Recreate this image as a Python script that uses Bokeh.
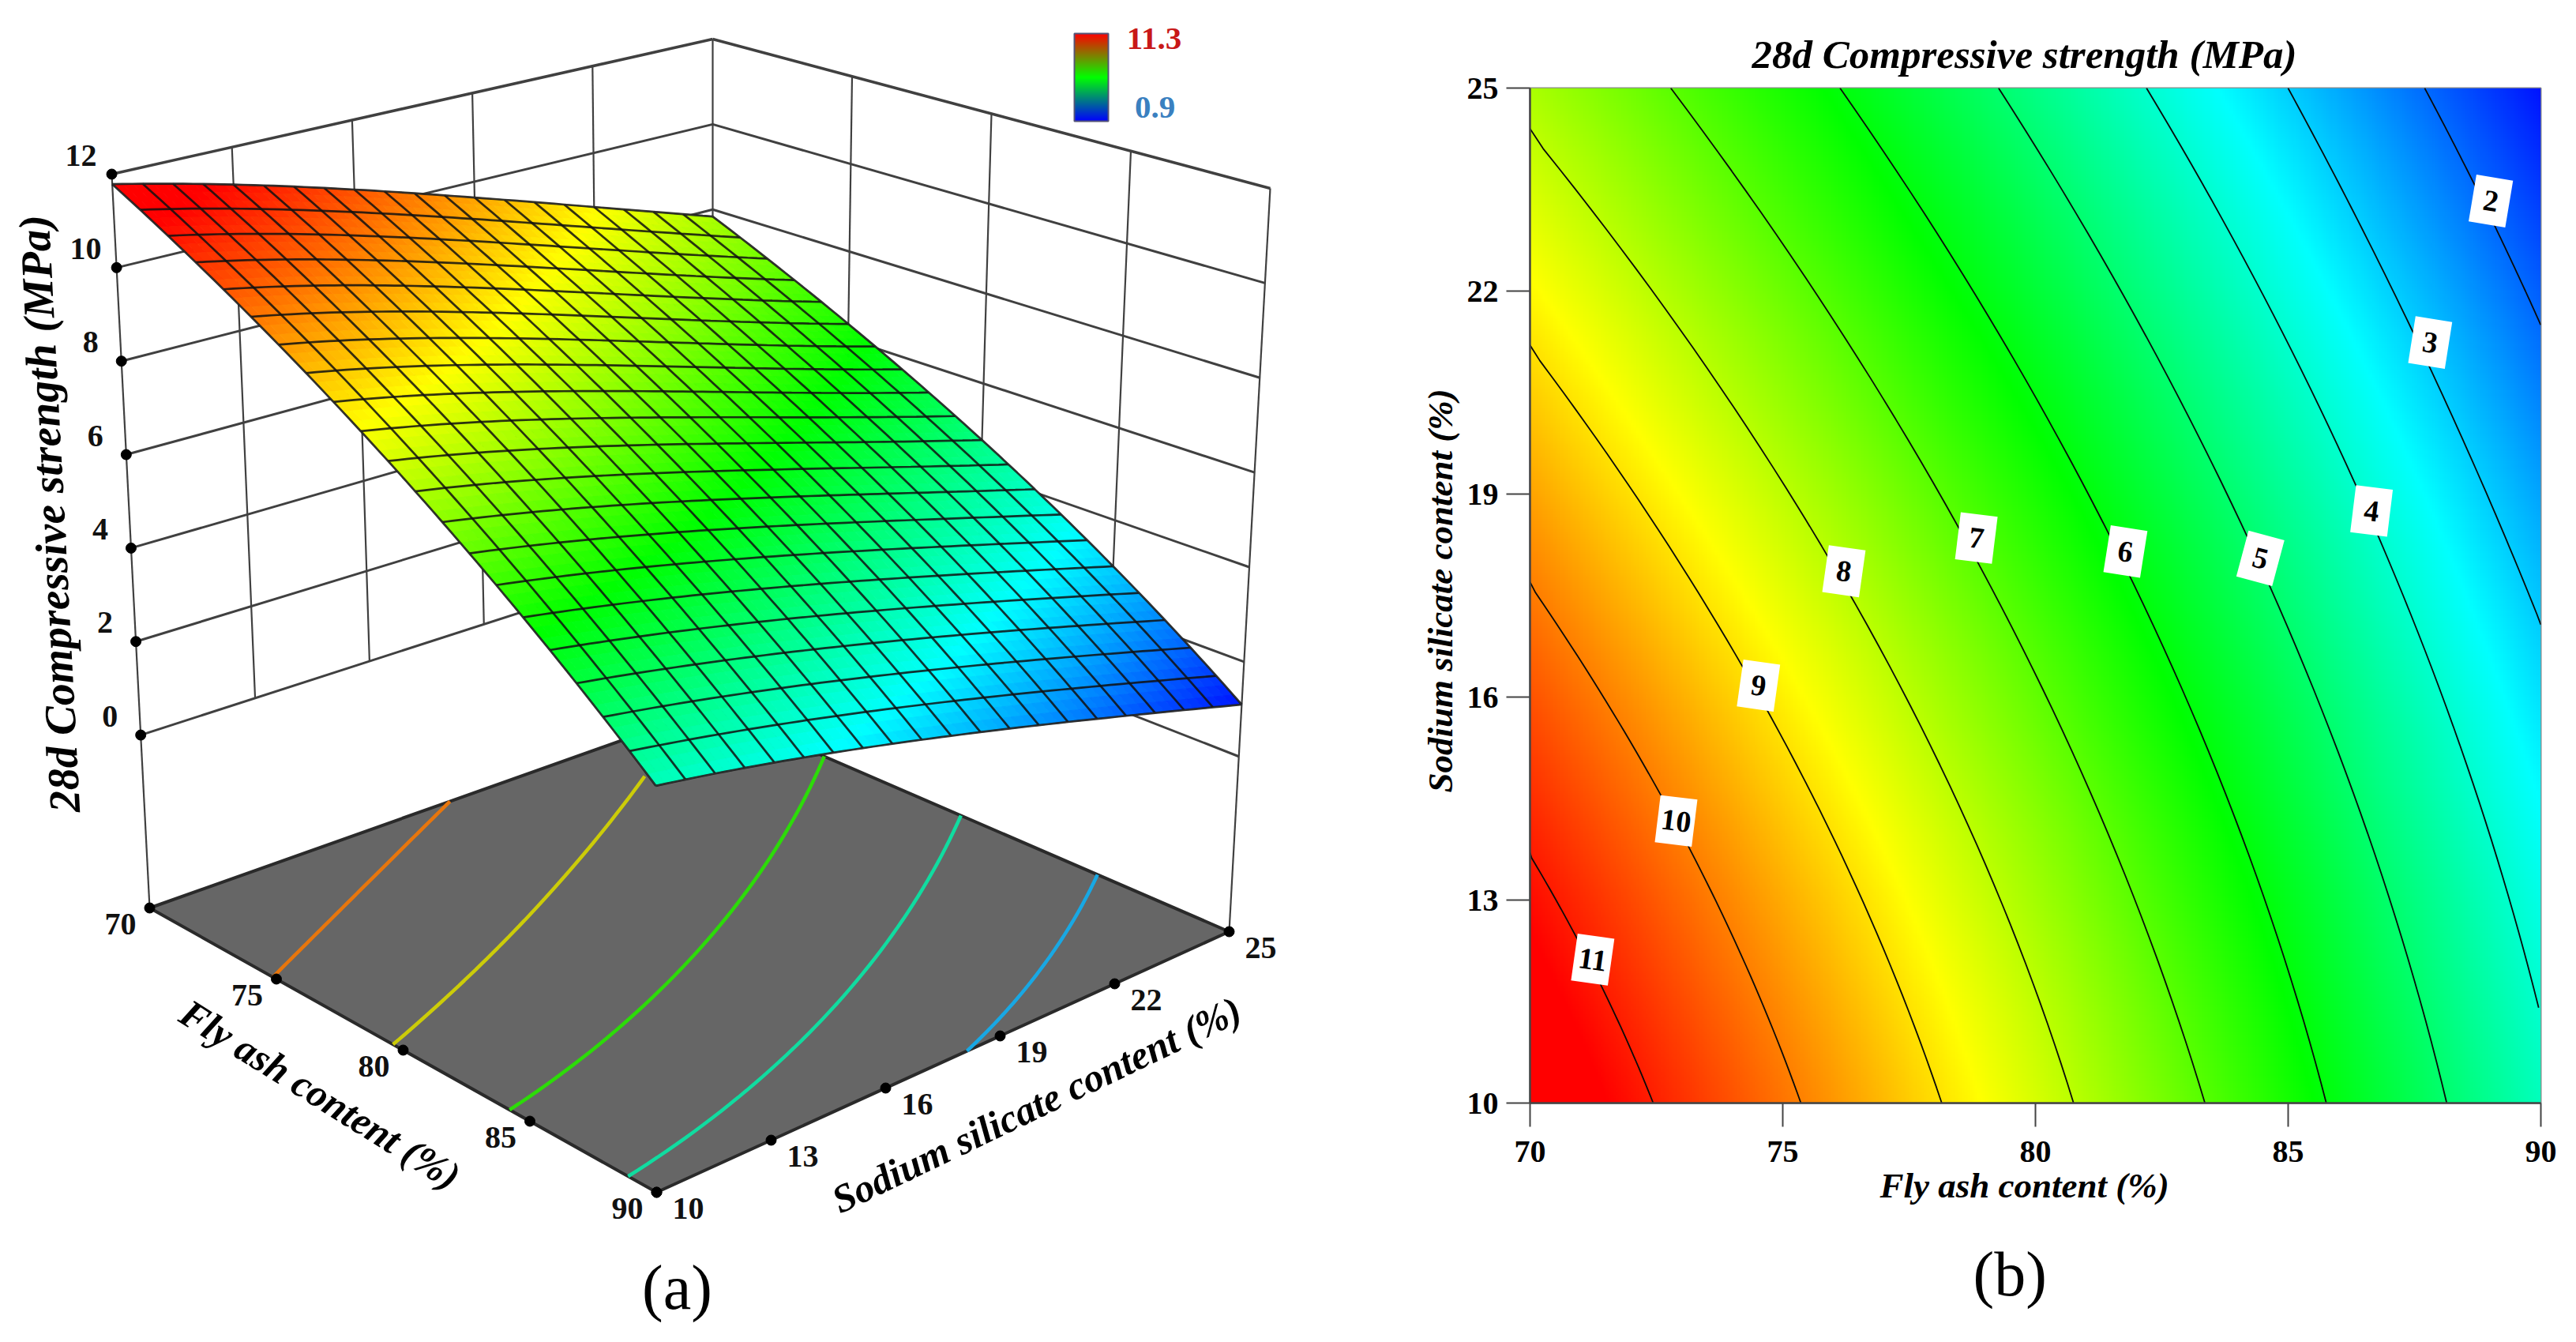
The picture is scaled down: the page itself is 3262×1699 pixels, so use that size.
import numpy as np
from bokeh.plotting import figure
from bokeh.layouts import row, column
from bokeh.models import Range1d, FixedTicker, ColumnDataSource, Label, Title
from bokeh.core.properties import value
from bokeh.embed import file_html
from bokeh.resources import INLINE

# ---------- data ----------
FLY_TICKS = [70, 75, 80, 85, 90]
SI_TICKS = [10, 13, 16, 19, 22, 25]
Z_TICKS = [0, 2, 4, 6, 8, 10, 12]

TABLE_FLY = [70, 72.5, 75, 77.5, 80, 82.5, 85, 87.5, 90]
TABLE_SI = [10, 13, 16, 19, 22, 25]
Z_SI10 = [11.80, 10.97, 10.12, 9.23, 8.30, 7.33, 6.31, 5.27, 4.20]
Z_SI13 = [11.15, 10.38, 9.55, 8.66, 7.72, 6.80, 5.80, 4.80, 3.72]
Z_SI16 = [10.50, 9.65, 8.85, 8.02, 7.12, 6.20, 5.24, 4.24, 3.25]
Z_SI19 = [9.65, 8.85, 8.05, 7.18, 6.36, 5.47, 4.53, 3.57, 2.55]
Z_SI22 = [8.75, 7.93, 7.17, 6.38, 5.56, 4.70, 3.80, 2.84, 1.88]
Z_SI25 = [7.85, 7.10, 6.35, 5.57, 4.75, 3.90, 3.00, 2.07, 1.10]

COLOR_VALUES = [0.9, 3.5, 6.1, 8.7, 11.3]
COLOR_RGB = [(0, 0, 255), (0, 255, 255), (0, 255, 0), (255, 255, 0), (255, 0, 0)]
LEGEND_RGB = [(0, 0, 255), (0, 255, 0), (255, 0, 0)]
LEGEND_MAX = "11.3"
LEGEND_MIN = "0.9"

# contour lines on the floor of panel (a): (sodium silicate, fly ash)
F_ORANGE = ([10, 13.7, 18.0], [74.86, 72.65, 70])
F_YELLOW = ([10, 15.72, 21.75], [79.6, 76.44, 72.1])
F_GREEN = ([10, 15.7, 21.17, 25], [84.24, 81.65, 78.08, 74.25])
F_TEAL = ([10, 17.23, 20.9, 25], [88.88, 85.85, 83.35, 79.6])
F_BLUE = ([18.13, 21.7, 25], [90, 87.76, 84.9])
FLOOR_LINES = [F_ORANGE, F_YELLOW, F_GREEN, F_TEAL, F_BLUE]
FLOOR_COLORS = ["#e8760c", "#cccc08", "#2cdc08", "#10dca0", "#18a8e4"]

# contour lines of panel (b): level -> (sodium silicate, fly ash)
C2 = ([25, 23.33, 22, 21.5], [87.7, 88.85, 89.69, 90])
C3 = ([25, 22, 19, 17.07], [85.0, 87.07, 88.94, 90])
C4 = ([25, 22, 19, 16, 13, 11.41], [82.2, 84.45, 86.42, 88.1, 89.3, 90])
C5 = ([25, 22, 19, 16, 13, 10], [79.28, 81.68, 83.77, 85.61, 86.99, 88.14])
C6 = ([25, 22, 19, 16, 13, 10], [76.17, 78.68, 81.08, 83.02, 84.5, 85.76])
C7 = ([25, 22, 19, 16, 13, 10], [72.84, 75.55, 78.04, 80.33, 81.98, 83.32])
C8 = ([24.4, 22, 19, 16, 13, 10], [70, 72.3, 75.16, 77.56, 79.2, 80.78])
C9 = ([21.2, 19, 16, 13, 10], [70, 72.0, 74.57, 76.6, 78.13])
C10 = ([17.7, 16, 14.58, 13, 10], [70, 71.39, 72.54, 73.74, 75.34])
C11 = ([13.7, 13, 12.49, 11.76, 10], [70, 70.45, 70.9, 71.42, 72.43])
CONTOURS = [C2, C3, C4, C5, C6, C7, C8, C9, C10, C11]

LABEL_TEXT = ["2", "3", "4", "5", "6", "7", "8", "9", "10", "11"]
LABEL_FLY = [89.01, 87.81, 86.65, 84.45, 81.78, 78.83, 76.21, 74.52, 72.89, 71.24]
LABEL_SI = [23.33, 21.24, 18.75, 18.05, 18.15, 18.35, 17.86, 16.17, 14.17, 12.12]
LABEL_TILT_DEG = [-9.5, -9, -7, -15, -9, -7, -8, -8, -7, -8]

TITLE = "28d Compressive strength (MPa)"
X_LABEL = "Fly ash content (%)"
Y_LABEL = "Sodium silicate content (%)"

FONT = "Liberation Serif"
Z = np.array([Z_SI10, Z_SI13, Z_SI16, Z_SI19, Z_SI22, Z_SI25])

# ---------- helpers ----------
_nf = lambda f: (np.asarray(f, float) - 80) / 10
_ns = lambda s: (np.asarray(s, float) - 17.5) / 7.5
_F, _S = np.meshgrid(TABLE_FLY, TABLE_SI)
_V = np.polynomial.polynomial.polyvander2d(_nf(_F).ravel(), _ns(_S).ravel(), [3, 3])
_coef = np.linalg.lstsq(_V, Z.ravel(), rcond=None)[0]


def surf(f, s):
    """Smooth read-out of the table of values."""
    f, s = np.asarray(f, float), np.asarray(s, float)
    return (np.polynomial.polynomial.polyvander2d(_nf(f).ravel(), _ns(s).ravel(), [3, 3]) @ _coef).reshape(f.shape)


def rgb(v):
    v = np.asarray(v, float)
    return np.stack([np.interp(v, COLOR_VALUES, [c[i] for c in COLOR_RGB]) for i in range(3)], -1)


def hexes(v):
    return ["#%02x%02x%02x" % tuple(int(round(x)) for x in c) for c in rgb(v).reshape(-1, 3)]


def smooth_line(si_vals, fly_vals, deg):
    fit = np.polyfit(si_vals, fly_vals, min(deg, len(si_vals) - 1))
    s_draw = np.linspace(min(si_vals), max(si_vals), 50)
    return np.clip(np.polyval(fit, s_draw), 70, 90), s_draw


# projection of the box (fly ash, sodium silicate, strength) on to the page
ZFLOOR, ZTOP = -3.7, 12.0
FLOOR = dict(a=(189, 1149), b=(831, 1509), c=(1556, 1179), d=(902, 896))
ROOF = dict(a=(141, 220), b=(829, 485), c=(1608, 238), d=(902, 49))


def project(f, s, z):
    u = (np.asarray(f, float) - 70) / 20
    v = (np.asarray(s, float) - 10) / 15
    w = (np.asarray(z, float) - ZFLOOR) / (ZTOP - ZFLOOR)
    out = []
    for i in range(2):
        lo = (1-u)*(1-v)*FLOOR['a'][i] + u*(1-v)*FLOOR['b'][i] + u*v*FLOOR['c'][i] + (1-u)*v*FLOOR['d'][i]
        hi = (1-u)*(1-v)*ROOF['a'][i] + u*(1-v)*ROOF['b'][i] + u*v*ROOF['c'][i] + (1-u)*v*ROOF['d'][i]
        out.append((1-w)*lo + w*hi)
    return out


# ---------- panel (a) ----------
pa = figure(width=1640, height=1699, x_range=Range1d(0, 1640), y_range=Range1d(1699, 0),
            x_axis_location=None, y_axis_location=None, output_backend="svg",
            toolbar_location=None, min_border=0, outline_line_color=None)
pa.grid.visible = False
WALL = "#404040"


def seg(f, s, z, **kw):
    x, y = project(f, s, z)
    pa.line(list(x), list(y), line_color=kw.get("c", WALL), line_width=kw.get("w", 2.2))


# floor
fx, fy = project([70, 90, 90, 70], [10, 10, 25, 25], [ZFLOOR]*4)
pa.patch(list(fx), list(fy), fill_color="#666666", line_color="#2a2a2a", line_width=4)

# floor contours
for (si_vals, fly_vals), col in zip(FLOOR_LINES, FLOOR_COLORS):
    f_draw, s_draw = smooth_line(si_vals, fly_vals, 2)
    x, y = project(f_draw, s_draw, np.full(len(s_draw), ZFLOOR))
    pa.line(list(x), list(y), line_color=col, line_width=4.5)

# walls
for z in Z_TICKS:
    w = 3.6 if z == 12 else 3
    seg([70, 70], [10, 25], [z, z], w=w)
    seg([70, 90], [25, 25], [z, z], w=w)
for s in SI_TICKS[1:-1]:
    seg([70, 70], [s, s], [0, 12], w=2.2)
for f in FLY_TICKS[1:-1]:
    seg([f, f], [25, 25], [0, 12], w=2.2)
seg([70, 70], [10, 10], [ZFLOOR, 12], w=2.2)
seg([90, 90], [25, 25], [ZFLOOR, 12], w=2.2)
seg([70, 70], [25, 25], [0, 12], w=2.2)

# surface
NC, SUB = 20, 3
fg = np.linspace(70, 90, NC*SUB+1)
sg = np.linspace(10, 25, NC*SUB+1)
FF, SS = np.meshgrid(fg, sg)
ZZ = surf(FF, SS)
PX, PY = project(FF, SS, ZZ)
cx, cy, cc = [], [], []
for j in range(NC*SUB):
    for i in range(NC*SUB):
        cx.append([PX[j, i], PX[j, i+1], PX[j+1, i+1], PX[j+1, i]])
        cy.append([PY[j, i], PY[j, i+1], PY[j+1, i+1], PY[j+1, i]])
        cc.append(ZZ[j:j+2, i:i+2].mean())
col = hexes(cc)
pa.patches(cx, cy, fill_color=col, line_color=col, line_width=1)
mx, my = [], []
for k in range(NC+1):
    mx.append(list(PX[k*SUB, :])); my.append(list(PY[k*SUB, :]))
    mx.append(list(PX[:, k*SUB])); my.append(list(PY[:, k*SUB]))
pa.multi_line(mx, my, line_color="#101010", line_width=2.7, line_alpha=0.85)
ex = list(PX[0, :]) + list(PX[:, -1]) + list(PX[-1, ::-1]) + list(PX[::-1, 0])
ey = list(PY[0, :]) + list(PY[:, -1]) + list(PY[-1, ::-1]) + list(PY[::-1, 0])
pa.line(ex, ey, line_color="#333333", line_width=1.6, line_alpha=0.8)

# tick dots and tick labels
dx, dy = [], []
labs = dict(x=[], y=[], t=[])
for z in Z_TICKS:
    x, y = project(70, 10, z)
    dx.append(float(x)); dy.append(float(y))
    labs['x'].append(float(x)-39); labs['y'].append(float(y)-24); labs['t'].append(str(z))
for f in FLY_TICKS:
    x, y = project(f, 10, ZFLOOR)
    dx.append(float(x)); dy.append(float(y))
    labs['x'].append(float(x)-37); labs['y'].append(float(y)+20); labs['t'].append(str(f))
for s in SI_TICKS:
    x, y = project(90, s, ZFLOOR)
    dx.append(float(x)); dy.append(float(y))
    labs['x'].append(float(x)+40); labs['y'].append(float(y)+20); labs['t'].append(str(s))
pa.scatter(dx, dy, size=13, color="#000000")
pa.text(x='x', y='y', text='t', source=ColumnDataSource(labs), text_font=value(FONT), text_font_size="40px",
        text_font_style="bold", text_align="center", text_baseline="middle", text_color="#111111")


def txt(p, x, y, t, size, style="bold", ang=0.0, color="#000000"):
    p.add_layout(Label(x=x, y=y, text=t, text_font=FONT, text_font_size=size,
                       text_font_style=style, text_align="center", text_baseline="middle", angle=ang,
                       text_color=color))


txt(pa, 62, 650, TITLE, "56px", "bold italic", np.deg2rad(93))
txt(pa, 405, 1385, X_LABEL, "50px", "bold italic", np.deg2rad(-32))
txt(pa, 1312, 1398, Y_LABEL, "50px", "bold italic", np.deg2rad(25.7))
txt(pa, 857, 1629, "(a)", "80px", "normal")

# legend bar
LB = np.linspace(0, 1, 112)
lc = np.stack([np.interp(LB, [0, 0.5, 1], [c[i] for c in LEGEND_RGB]) for i in range(3)], -1)
ltop = 153 - LB[1:] * 111
lbot = 153 - LB[:-1] * 111
lcols = ["#%02x%02x%02x" % tuple(int(v) for v in c) for c in lc[:-1]]
pa.quad(left=1360, right=1403, top=list(ltop), bottom=list(lbot), line_color=lcols, line_width=1, fill_color=lcols)
pa.quad(left=[1360], right=[1403], top=[42], bottom=[153], fill_color=None, line_color="#555577", line_width=2)
txt(pa, 1461, 48, LEGEND_MAX, "41px", "bold", color="#c81818")
txt(pa, 1462, 135, LEGEND_MIN, "41px", "bold", color="#3a80c0")

# ---------- panel (b) ----------
pb = figure(width=1622, height=1699, x_range=Range1d(70, 90), y_range=Range1d(10, 25),
            output_backend="svg", toolbar_location=None,
            min_border_left=297, min_border_right=45, min_border_top=111, min_border_bottom=303,
            outline_line_color="#888888", outline_line_width=2)
pb.grid.visible = False
gf = np.linspace(70, 90, 400)
gs = np.linspace(10, 25, 400)
GF, GS = np.meshgrid(gf, gs)
img = np.zeros((400, 400, 4), dtype=np.uint8)
img[..., :3] = np.round(rgb(surf(GF, GS))).astype(np.uint8)
img[..., 3] = 255
pb.image_rgba(image=[img.view(np.uint32).reshape(400, 400)], x=70, y=10, dw=20, dh=15)
for si_vals, fly_vals in CONTOURS:
    f_draw, s_draw = smooth_line(si_vals, fly_vals, 2)
    pb.line(list(f_draw), list(s_draw), line_color="#0a0a0a", line_width=1.8)
src = ColumnDataSource(dict(x=LABEL_FLY, y=LABEL_SI, t=LABEL_TEXT, a=list(np.deg2rad(LABEL_TILT_DEG))))
pb.rect(x='x', y='y', width=47, height=60, width_units="screen", height_units="screen", angle='a',
        source=src, fill_color="#ffffff", line_color=None)
pb.text(x='x', y='y', text='t', angle='a', source=src, text_font=value(FONT), text_font_size="38px",
        text_font_style="bold", text_align="center", text_baseline="middle", text_color="#000000")
for ax, ticks in ((pb.xaxis[0], FLY_TICKS), (pb.yaxis[0], SI_TICKS)):
    ax.ticker = FixedTicker(ticks=ticks)
    ax.major_label_text_font = FONT
    ax.major_label_text_font_style = "bold"
    ax.major_label_text_font_size = "40px"
    ax.major_label_text_color = "#000000"
    ax.major_tick_out = 30
    ax.major_tick_in = 0
    ax.minor_tick_out = 0
    ax.minor_tick_in = 0
    ax.major_tick_line_color = "#444444"
    ax.major_tick_line_width = 2
    ax.axis_line_color = "#444444"
    ax.axis_line_width = 2.5
pb.xaxis[0].major_label_standoff = 18
pb.yaxis[0].major_label_standoff = 10


def side_title(text, size, style, offset, standoff, place):
    t = Title(text=text, text_font=FONT, text_font_size=size, text_font_style=style, text_color="#000000",
              align="left", offset=offset, standoff=standoff)
    pb.add_layout(t, place)


pb.title = Title(text=TITLE, text_font=FONT, text_font_size="51px", text_font_style="bold italic",
                 text_color="#000000", align="left", offset=281, standoff=30)
side_title(X_LABEL, "45px", "bold italic", 443, 0, "below")
side_title("(b)", "80px", "normal", 561, 83, "below")
side_title(Y_LABEL, "45px", "bold italic", 393, 12, "left")

lay = row(column(pa), column(pb), spacing=0)
open("out.html", "w").write(file_html(lay, INLINE))
